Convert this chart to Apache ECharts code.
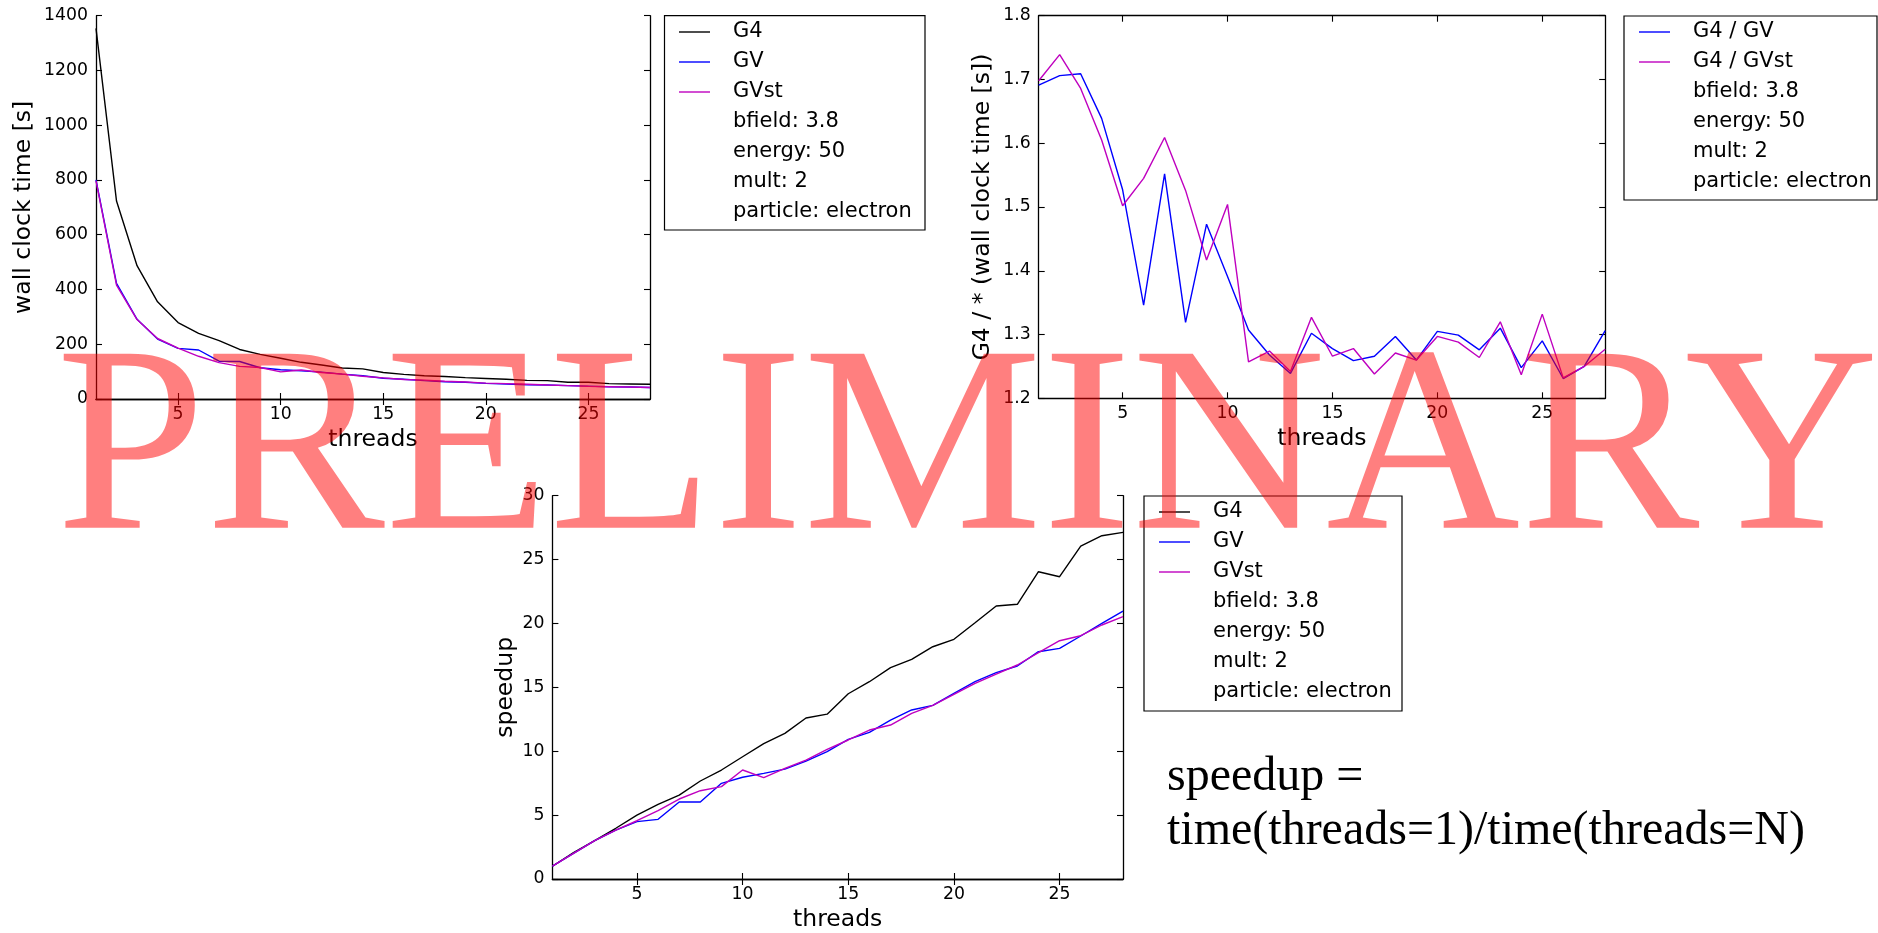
<!DOCTYPE html>
<html>
<head>
<meta charset="utf-8">
<script src="https://cdn.jsdelivr.net/npm/echarts@6/dist/echarts.min.js"></script>
<style>
html,body{margin:0;padding:0;background:#fff;}
#c{width:1878px;height:933px;}
</style>
</head>
<body>
<div id="c"></div>
<script>
// ---------- data ----------
const threads = [1,2,3,4,5,6,7,8,9,10,11,12,13,14,15,16,17,18,19,20,21,22,23,24,25,26,27,28];

const g4Time   = [1354,723,487,355,279,240,213,181,163,149,134,124,113,110,97,90,85,82,78,75,72,68,67,61,61,56,55,54];
const gvTime   = [800,422,291,219,185,179,138,137,114,107,103,98,91,85,76,72,67,63,61,57,55,52,51,49,47,45,44,42];
const gvstTime = [797,416,290,221,186,156,133,119,115,99,106,97,91,83,77,71,69,65,62,58,56,54,51,49,46,45,44,42];

const ratioGV   = [1.691,1.706,1.709,1.639,1.527,1.346,1.552,1.319,1.473,1.391,1.307,1.268,1.239,1.302,1.278,1.259,1.266,1.297,1.260,1.305,1.299,1.276,1.310,1.248,1.290,1.231,1.250,1.306];
const ratioGVst = [1.698,1.739,1.686,1.605,1.502,1.545,1.609,1.526,1.417,1.504,1.257,1.274,1.242,1.327,1.266,1.278,1.238,1.271,1.260,1.297,1.288,1.264,1.320,1.237,1.332,1.232,1.250,1.277];

const speedupG4   = [1.0,2.06,3.0,3.97,5.0,5.84,6.57,7.67,8.53,9.57,10.6,11.4,12.6,12.9,14.5,15.44,16.54,17.19,18.18,18.76,20.06,21.37,21.5,24.05,23.66,26.06,26.87,27.13];
const speedupGV   = [1.0,2.0,3.0,3.83,4.49,4.67,6.03,6.03,7.49,7.96,8.27,8.6,9.23,9.97,10.93,11.48,12.44,13.23,13.59,14.53,15.44,16.15,16.67,17.79,18.05,19.02,20.0,20.97];
const speedupGVst = [1.0,2.0,3.0,3.83,4.56,5.35,6.26,6.91,7.23,8.53,7.93,8.66,9.31,10.15,10.88,11.66,12.05,12.97,13.59,14.45,15.31,16.04,16.75,17.71,18.65,19.04,19.88,20.53];

const xTickValues = [5,10,15,20,25];
const seriesNames = ['G4','GV','GVst'];
const ratioNames = ['G4 / GV','G4 / GVst'];
const infoLines = ['bfield: 3.8','energy: 50','mult: 2','particle: electron'];
const xName = 'threads';
const yNames = ['wall clock time [s]','G4 / * (wall clock time [s])','speedup'];
const formulaLines = ['speedup =','time(threads=1)/time(threads=N)'];
const watermark = 'PRELIMINARY';

// ---------- styles ----------
const C_G4 = '#000000', C_GV = '#0000ff', C_GVST = '#bf00bf';
const FONT = 'DejaVu Sans';
const TICK_FS = 17.3, NAME_FS = 23.5, LEG_FS = 21;

const grids = [
  {left:96,   top:15.7, width:554,   height:383.3},
  {left:1038.7, top:15.7, width:566.5, height:382.6},
  {left:552.4, top:495.7, width:570.6, height:383.3}
];
const yRanges = [[0,1400,200],[1.2,1.8,0.1],[0,30,5]];
const yGaps = [60, 44, 35];

function pair(v){return v.map((y,i)=>[threads[i],y]);}

const xAxes=[], yAxes=[];
grids.forEach((g,gi)=>{
  const axisLine={show:true,lineStyle:{color:'#000',width:1.3}};
  const tick={show:true,inside:true,length:6,lineStyle:{color:'#000',width:1.1},customValues:xTickValues};
  xAxes.push({type:'value',gridIndex:gi,position:'bottom',min:1,max:28,
    axisLine:axisLine,axisTick:tick,splitLine:{show:false},
    axisLabel:{show:true,customValues:xTickValues,color:'#000',fontFamily:FONT,fontSize:TICK_FS,margin:7},
    name:xName,nameLocation:'middle',nameGap:29,nameTextStyle:{color:'#000',fontFamily:FONT,fontSize:NAME_FS}});
  xAxes.push({type:'value',gridIndex:gi,position:'top',min:1,max:28,
    axisLine:axisLine,axisTick:tick,splitLine:{show:false},axisLabel:{show:false}});
  const yr=yRanges[gi];
  const ytick={show:true,inside:true,length:6,lineStyle:{color:'#000',width:1.1}};
  yAxes.push({type:'value',gridIndex:gi,position:'left',min:yr[0],max:yr[1],interval:yr[2],
    axisLine:axisLine,axisTick:ytick,splitLine:{show:false},
    axisLabel:{color:'#000',fontFamily:FONT,fontSize:TICK_FS,margin:8,
      formatter:(v)=> gi===1 ? v.toFixed(1) : String(Math.round(v))},
    name:yNames[gi],nameLocation:'middle',nameGap:yGaps[gi],nameRotate:90,
    nameTextStyle:{color:'#000',fontFamily:FONT,fontSize:NAME_FS}});
  yAxes.push({type:'value',gridIndex:gi,position:'right',min:yr[0],max:yr[1],interval:yr[2],
    axisLine:axisLine,axisTick:ytick,splitLine:{show:false},axisLabel:{show:false}});
});

function line(name,data,color,gi){
  return {type:'line',name:name,xAxisIndex:gi*2,yAxisIndex:gi*2,data:pair(data),
    showSymbol:false,symbol:'none',lineStyle:{color:color,width:1.4},itemStyle:{color:color},
    animation:false,silent:true,z:3};
}
const series=[
  line(seriesNames[0],g4Time,C_G4,0),
  line(seriesNames[1],gvTime,C_GV,0),
  line(seriesNames[2],gvstTime,C_GVST,0),
  line(ratioNames[0],ratioGV,C_GV,1),
  line(ratioNames[1],ratioGVst,C_GVST,1),
  line(seriesNames[0],speedupG4,C_G4,2),
  line(seriesNames[1],speedupGV,C_GV,2),
  line(seriesNames[2],speedupGVst,C_GVST,2)
];

// ---------- legends (as annotation graphics) ----------
const graphics=[];
function legendBox(box,entries,lineX0,lineX1,textX,rowY0){
  graphics.push({type:'rect',shape:{x:box[0],y:box[1],width:box[2]-box[0],height:box[3]-box[1]},
    style:{fill:'#fff',stroke:'#000',lineWidth:1.2},z:10});
  entries.forEach((e,i)=>{
    const y=rowY0+i*30;
    if(e.color){
      graphics.push({type:'line',shape:{x1:lineX0,y1:y,x2:lineX1,y2:y},style:{stroke:e.color,lineWidth:1.4},z:11});
    }
    graphics.push({type:'text',x:textX,y:y,style:{text:e.text,fill:'#000',font:LEG_FS+'px "'+FONT+'"',
      textAlign:'left',textVerticalAlign:'middle',verticalAlign:'middle'},z:11});
  });
}
const ent3=[{text:seriesNames[0],color:C_G4},{text:seriesNames[1],color:C_GV},{text:seriesNames[2],color:C_GVST}]
  .concat(infoLines.map(t=>({text:t})));
const ent2=[{text:ratioNames[0],color:C_GV},{text:ratioNames[1],color:C_GVST}].concat(infoLines.map(t=>({text:t})));
legendBox([664.5,15.7,925,230],ent3,679,710,733,32);
legendBox([1624,16,1877,200],ent2,1639,1670,1693,32);
legendBox([1144,496,1402,711],ent3,1159,1190,1213,512);

// formula
formulaLines.forEach((t,i)=>{
  graphics.push({type:'text',x:1167,y:i===0?777:831,style:{text:t,fill:'#000',font:'48px "Liberation Serif"',
    textAlign:'left',textVerticalAlign:'middle',verticalAlign:'middle'},z:12});
});

// watermark
graphics.push({type:'text',x:56,y:458,scaleX:1.011,style:{text:watermark,fill:'rgba(255,0,0,0.5)',font:'266px "Liberation Serif"',
  textAlign:'left',textVerticalAlign:'middle',verticalAlign:'middle'},z:100,zlevel:0});

const chart=echarts.init(document.getElementById('c'),null,{renderer:'canvas'});
chart.setOption({
  animation:false,
  backgroundColor:'#ffffff',
  grid:grids.map(g=>Object.assign({containLabel:false},g)),
  xAxis:xAxes,
  yAxis:yAxes,
  series:series,
  graphic:{elements:graphics}
});
</script>
</body>
</html>
